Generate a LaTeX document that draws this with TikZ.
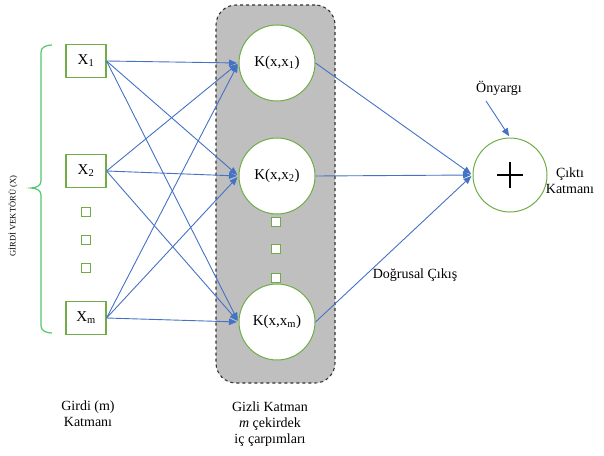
\documentclass[tikz,border=0pt]{standalone}
\usepackage{fontspec}
\setmainfont{Liberation Serif}
\usetikzlibrary{arrows.meta}
\definecolor{bx}{HTML}{70AD47}
\definecolor{ln}{HTML}{4472C4}
\definecolor{br}{RGB}{80,200,110}
\definecolor{hg}{HTML}{BFBFBF}
\tikzset{
  inbox/.style={draw=bx, line width=1.1pt, fill=white, minimum width=40pt, minimum height=33pt, inner sep=0pt, font=\fontsize{15}{17}\selectfont},
  dot/.style={draw=bx, line width=1pt, fill=white, minimum size=9pt, inner sep=0pt},
  kcirc/.style={circle, draw=bx, line width=1pt, fill=white, minimum size=76pt, inner sep=0pt, font=\fontsize{15}{17}\selectfont},
  hidbox/.style={draw=black!80, dashed, line width=1.1pt, fill=hg, rounded corners=20pt, minimum width=119pt, minimum height=378pt},
  arr/.style={draw=ln, line width=0.9pt, -{Triangle[length=8pt,width=6.5pt]}, shorten >=1.5pt},
  lbl/.style={font=\fontsize{14}{16}\selectfont, align=center, inner sep=0pt},
}
\begin{document}
\begin{tikzpicture}[x=1pt,y=-1pt]
\useasboundingbox (0,0) rectangle (604,455);
% hidden layer background
\node[hidbox] (hid) at (275.5,194) {};
% input boxes
\node[inbox] (x1) at (86,61) {X\textsubscript{1}};
\node[inbox] (x2) at (86,171) {X\textsubscript{2}};
\node[inbox] (xm) at (86,318) {X\textsubscript{m}};
\node[dot] (d1) at (86,212) {};
\node[dot] (d2) at (86,240) {};
\node[dot] (d3) at (86,268) {};
% kernel circles
\node[kcirc] (k1) at (277,63) {K(x,x\textsubscript{1})};
\node[kcirc] (k2) at (277,176) {K(x,x\textsubscript{2})};
\node[kcirc] (km) at (277,322) {K(x,x\textsubscript{m})};
\node[dot] (e1) at (276,222) {};
\node[dot] (e2) at (276,249) {};
\node[dot] (e3) at (276,278) {};
% output
\node[circle, draw=bx, line width=1pt, fill=white, minimum size=74pt] (out) at (510,175) {};
\draw[line width=1.5pt] ([xshift=-13pt]out.center) -- ([xshift=13pt]out.center);
\draw[line width=1.5pt] ([yshift=-13pt]out.center) -- ([yshift=13pt]out.center);
% input -> kernel
\foreach \a in {x1,x2,xm}{
  \foreach \b in {k1,k2,km}{
    \draw[arr] (\a.east) -- (\b.west);
  }
}
% kernel -> output
\foreach \b in {k1,k2,km}{
  \draw[arr] (\b.east) -- (out.west);
}
% bias
\node[lbl] (bias) at (499,88) {Önyargı};
\coordinate (bstart) at (486,101);
\draw[arr] (bstart) -- (out.north);
% labels
\node[lbl] (lin) at (415,275) {Doğrusal Çıkış};
\node[lbl] (outl) at (570,181) {Çıktı\\Katmanı};
\node[lbl] (inl) at (88,414) {Girdi (m)\\Katmanı};
\node[lbl] (hidl) at (270,424) {Gizli Katman\\\textit{m} çekirdek\\iç çarpımları};
% brace
\draw[br, line width=1.2pt] (52,45) to[out=180,in=90] (41,52) -- (41,181) to[out=-90,in=0] (31,188) to[out=0,in=90] (41,195) -- (41,326) to[out=-90,in=180] (52,333);
\node[rotate=90, font=\fontsize{8.5}{9}\selectfont, inner sep=0pt] (vec) at (13,216) {GİRDİ VEKTÖRÜ (X)};
\end{tikzpicture}
\end{document}
